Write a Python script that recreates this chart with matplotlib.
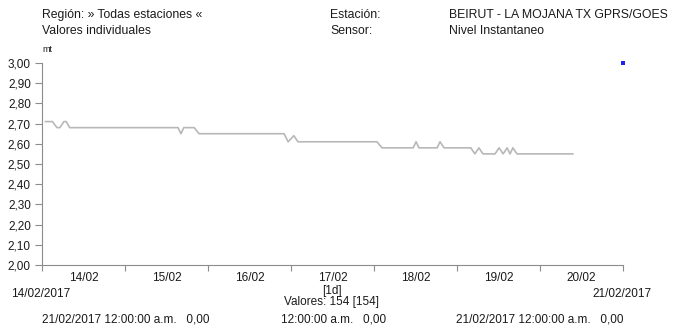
import numpy as np
import matplotlib
matplotlib.use('Agg')
import matplotlib.pyplot as plt
import matplotlib.dates as mdates
from datetime import datetime

# nivel instantaneo (mt), BEIRUT - LA MOJANA
times = ['2017-02-14 01:00', '2017-02-14 03:00', '2017-02-14 04:20', '2017-02-14 05:10',
         '2017-02-14 06:20', '2017-02-14 07:00', '2017-02-14 08:00', '2017-02-15 15:20',
         '2017-02-15 16:10', '2017-02-15 17:00', '2017-02-15 20:00', '2017-02-15 21:25',
         '2017-02-16 22:00', '2017-02-16 23:10', '2017-02-17 00:50', '2017-02-17 02:00',
         '2017-02-18 00:50', '2017-02-18 02:20', '2017-02-18 11:20', '2017-02-18 12:10',
         '2017-02-18 13:00', '2017-02-18 18:15', '2017-02-18 19:05', '2017-02-18 20:15',
         '2017-02-19 04:00', '2017-02-19 05:10', '2017-02-19 06:20', '2017-02-19 07:30',
         '2017-02-19 11:00', '2017-02-19 12:10', '2017-02-19 13:20', '2017-02-19 14:30',
         '2017-02-19 15:20', '2017-02-19 16:10', '2017-02-19 17:20', '2017-02-20 09:30']
nivel = [2.71, 2.71, 2.68, 2.68,
         2.71, 2.71, 2.68, 2.68,
         2.65, 2.68, 2.68, 2.65,
         2.65, 2.61, 2.64, 2.61,
         2.61, 2.58, 2.58, 2.61,
         2.58, 2.58, 2.61, 2.58,
         2.58, 2.55, 2.58, 2.55,
         2.55, 2.58, 2.55, 2.58,
         2.55, 2.58, 2.55, 2.55]
punto_t = ['2017-02-21 00:00']
punto_v = [3.00]

dias = ['14/02', '15/02', '16/02', '17/02', '18/02', '19/02', '20/02']
y_ticks = [2.0, 2.1, 2.2, 2.3, 2.4, 2.5, 2.6, 2.7, 2.8, 2.9, 3.0]

W, H = 679, 329
TXT = '#1a1a1a'
AXC = '#8c8c8c'


def to_dt(lst):
    return [datetime.strptime(s, '%Y-%m-%d %H:%M') for s in lst]


def ftext(fig, x, y, s, **kw):
    # pixel coords (from top-left) -> figure fraction
    kw.setdefault('fontsize', 8.8)
    kw.setdefault('color', TXT)
    kw.setdefault('va', 'center')
    fig.text(x / W, 1 - y / H, s, **kw)


plt.rcParams['font.family'] = ['Liberation Sans', 'DejaVu Sans']

fig = plt.figure(figsize=(W / 100, H / 100), dpi=100)
fig.set_facecolor('white')
ax = fig.add_axes([42 / W, 1 - 265 / H, (623 - 42) / W, (265 - 63) / H])

ax.plot(to_dt(times), nivel, color='#b8b8b8', lw=1.2)
ax.plot(to_dt(punto_t), punto_v, 's', color='#2020f0', ms=3, mew=0, clip_on=False)

t0 = datetime(2017, 2, 14)
t1 = datetime(2017, 2, 21)
ax.set_xlim(t0, t1)
ax.set_ylim(2.0, 3.0)

for s in ['top', 'right']:
    ax.spines[s].set_visible(False)
for s in ['left', 'bottom']:
    ax.spines[s].set_color(AXC)
    ax.spines[s].set_linewidth(0.8)

ax.set_yticks(y_ticks)
ax.yaxis.set_major_formatter(plt.FuncFormatter(lambda v, p: ('%.2f' % v).replace('.', ',')))
ax.tick_params(axis='y', direction='out', length=5, width=0.8, color=AXC,
               labelsize=8.5, labelcolor=TXT, pad=3)

ax.xaxis.set_major_locator(mdates.DayLocator())
ax.xaxis.set_major_formatter(plt.NullFormatter())
ax.set_xticks([mdates.date2num(t0) + i + 0.5 for i in range(7)], minor=True)
ax.set_xticklabels(dias, minor=True)
ax.tick_params(axis='x', which='major', direction='out', length=4, width=0.8, color=AXC)
ax.tick_params(axis='x', which='minor', length=0, labelsize=8.5, labelcolor=TXT, pad=5)

# header
ftext(fig, 42, 15, 'Región: » Todas estaciones «')
ftext(fig, 42, 31, 'Valores individuales')
ftext(fig, 330, 15, 'Estación:')
ftext(fig, 330, 31, 'Sensor:')
ftext(fig, 449, 15, 'BEIRUT - LA MOJANA TX GPRS/GOES')
ftext(fig, 449, 31, 'Nivel Instantaneo')
ftext(fig, 42, 50, 'mt', fontsize=6.5)

# footer
ftext(fig, 41, 294, '14/02/2017', fontsize=8.5, ha='center')
ftext(fig, 622, 294, '21/02/2017', fontsize=8.5, ha='center')
ftext(fig, 332, 291, '[1d]', fontsize=8.5, ha='center')
ftext(fig, 332, 302, 'Valores: 154 [154]', fontsize=8.5, ha='center')
ftext(fig, 42, 320, '21/02/2017 12:00:00 a.m.   0,00', fontsize=8.5)
ftext(fig, 334, 320, '12:00:00 a.m.   0,00', fontsize=8.5, ha='center')
ftext(fig, 623, 320, '21/02/2017 12:00:00 a.m.   0,00', fontsize=8.5, ha='right')

fig.savefig('out.png', dpi=100)
